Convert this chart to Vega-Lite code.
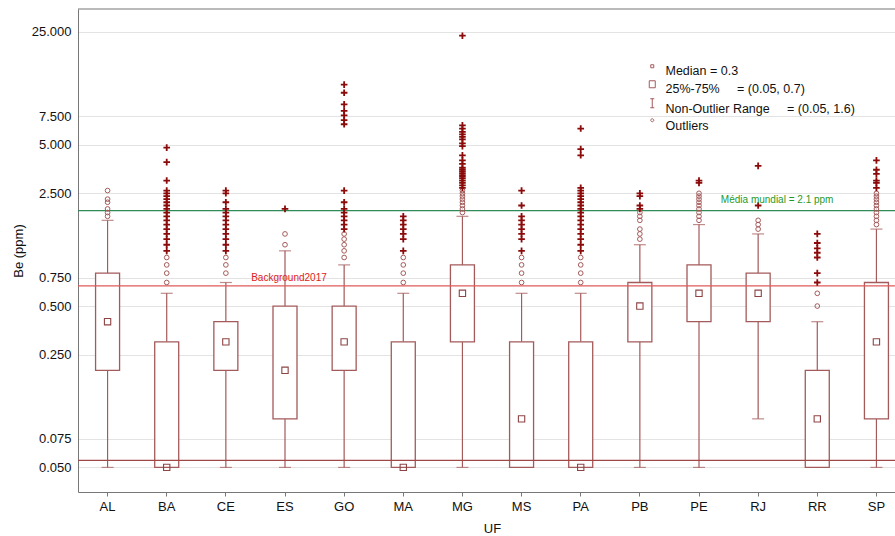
{
  "$schema": "https://vega.github.io/schema/vega-lite/v6.json",
  "width": 817,
  "height": 483,
  "autosize": {"type": "none"},
  "padding": {"left": 78, "top": 9, "right": 0, "bottom": 44},
  "background": "white",
  "config": {
    "view": {"stroke": null},
    "font": "Liberation Sans",
    "axis": {"labelFont": "Liberation Sans", "titleFont": "Liberation Sans", "labelColor": "#111", "titleColor": "#111", "titleFontWeight": "normal", "domainColor": "#777", "tickColor": "#777", "labelFontSize": 13, "titleFontSize": 13},
    "axisX": {"labelAngle": 0, "tickSize": 4, "labelPadding": 4, "titlePadding": 9, "grid": false},
    "axisY": {"ticks": false, "labelPadding": 7, "titlePadding": 6, "grid": true, "gridColor": "#e3e3e3"}
  },
  "datasets": {
    "boxes": [
      {"uf": "AL", "lo": 0.05, "q1": 0.2, "med": 0.4, "q3": 0.8, "hi": 1.7},
      {"uf": "BA", "lo": 0.05, "q1": 0.05, "med": 0.05, "q3": 0.3, "hi": 0.6},
      {"uf": "CE", "lo": 0.05, "q1": 0.2, "med": 0.3, "q3": 0.4, "hi": 0.7},
      {"uf": "ES", "lo": 0.05, "q1": 0.1, "med": 0.2, "q3": 0.5, "hi": 1.1},
      {"uf": "GO", "lo": 0.05, "q1": 0.2, "med": 0.3, "q3": 0.5, "hi": 0.9},
      {"uf": "MA", "lo": 0.05, "q1": 0.05, "med": 0.05, "q3": 0.3, "hi": 0.6},
      {"uf": "MG", "lo": 0.05, "q1": 0.3, "med": 0.6, "q3": 0.9, "hi": 1.8},
      {"uf": "MS", "lo": 0.05, "q1": 0.05, "med": 0.1, "q3": 0.3, "hi": 0.6},
      {"uf": "PA", "lo": 0.05, "q1": 0.05, "med": 0.05, "q3": 0.3, "hi": 0.6},
      {"uf": "PB", "lo": 0.05, "q1": 0.3, "med": 0.5, "q3": 0.7, "hi": 1.2},
      {"uf": "PE", "lo": 0.05, "q1": 0.4, "med": 0.6, "q3": 0.9, "hi": 1.6},
      {"uf": "RJ", "lo": 0.1, "q1": 0.4, "med": 0.6, "q3": 0.8, "hi": 1.4},
      {"uf": "RR", "lo": 0.05, "q1": 0.05, "med": 0.1, "q3": 0.2, "hi": 0.4},
      {"uf": "SP", "lo": 0.05, "q1": 0.1, "med": 0.3, "q3": 0.7, "hi": 1.5}
    ],
    "pts": [
      {"uf": "AL", "v": 1.8, "k": "o"}, {"uf": "AL", "v": 1.9, "k": "o"}, {"uf": "AL", "v": 2.0, "k": "o"}, {"uf": "AL", "v": 2.2, "k": "o"}, {"uf": "AL", "v": 2.3, "k": "o"}, {"uf": "AL", "v": 2.6, "k": "o"},
      {"uf": "BA", "v": 0.7, "k": "o"}, {"uf": "BA", "v": 0.8, "k": "o"}, {"uf": "BA", "v": 0.9, "k": "o"}, {"uf": "BA", "v": 1.0, "k": "o"},
      {"uf": "BA", "v": 1.1, "k": "e"}, {"uf": "BA", "v": 1.2, "k": "e"}, {"uf": "BA", "v": 1.3, "k": "e"}, {"uf": "BA", "v": 1.4, "k": "e"}, {"uf": "BA", "v": 1.5, "k": "e"}, {"uf": "BA", "v": 1.6, "k": "e"}, {"uf": "BA", "v": 1.7, "k": "e"}, {"uf": "BA", "v": 1.8, "k": "e"}, {"uf": "BA", "v": 1.9, "k": "e"}, {"uf": "BA", "v": 2.0, "k": "e"}, {"uf": "BA", "v": 2.1, "k": "e"}, {"uf": "BA", "v": 2.2, "k": "e"}, {"uf": "BA", "v": 2.3, "k": "e"}, {"uf": "BA", "v": 2.4, "k": "e"}, {"uf": "BA", "v": 2.5, "k": "e"}, {"uf": "BA", "v": 2.6, "k": "e"}, {"uf": "BA", "v": 3.0, "k": "e"}, {"uf": "BA", "v": 3.9, "k": "e"}, {"uf": "BA", "v": 4.8, "k": "e"},
      {"uf": "CE", "v": 0.8, "k": "o"}, {"uf": "CE", "v": 0.9, "k": "o"}, {"uf": "CE", "v": 1.0, "k": "o"},
      {"uf": "CE", "v": 1.1, "k": "e"}, {"uf": "CE", "v": 1.2, "k": "e"}, {"uf": "CE", "v": 1.3, "k": "e"}, {"uf": "CE", "v": 1.4, "k": "e"}, {"uf": "CE", "v": 1.5, "k": "e"}, {"uf": "CE", "v": 1.6, "k": "e"}, {"uf": "CE", "v": 1.7, "k": "e"}, {"uf": "CE", "v": 1.8, "k": "e"}, {"uf": "CE", "v": 1.9, "k": "e"}, {"uf": "CE", "v": 2.0, "k": "e"}, {"uf": "CE", "v": 2.2, "k": "e"}, {"uf": "CE", "v": 2.5, "k": "e"}, {"uf": "CE", "v": 2.6, "k": "e"},
      {"uf": "ES", "v": 1.2, "k": "o"}, {"uf": "ES", "v": 1.4, "k": "o"}, {"uf": "ES", "v": 2.0, "k": "e"},
      {"uf": "GO", "v": 1.0, "k": "o"}, {"uf": "GO", "v": 1.1, "k": "o"}, {"uf": "GO", "v": 1.2, "k": "o"}, {"uf": "GO", "v": 1.3, "k": "o"}, {"uf": "GO", "v": 1.4, "k": "o"},
      {"uf": "GO", "v": 1.5, "k": "e"}, {"uf": "GO", "v": 1.6, "k": "e"}, {"uf": "GO", "v": 1.7, "k": "e"}, {"uf": "GO", "v": 1.8, "k": "e"}, {"uf": "GO", "v": 1.9, "k": "e"}, {"uf": "GO", "v": 2.0, "k": "e"}, {"uf": "GO", "v": 2.2, "k": "e"}, {"uf": "GO", "v": 2.6, "k": "e"}, {"uf": "GO", "v": 6.7, "k": "e"}, {"uf": "GO", "v": 7.1, "k": "e"}, {"uf": "GO", "v": 7.6, "k": "e"}, {"uf": "GO", "v": 8.1, "k": "e"}, {"uf": "GO", "v": 8.9, "k": "e"}, {"uf": "GO", "v": 10.5, "k": "e"}, {"uf": "GO", "v": 11.8, "k": "e"},
      {"uf": "MA", "v": 0.7, "k": "o"}, {"uf": "MA", "v": 0.8, "k": "o"}, {"uf": "MA", "v": 0.9, "k": "o"}, {"uf": "MA", "v": 1.0, "k": "o"},
      {"uf": "MA", "v": 1.1, "k": "e"}, {"uf": "MA", "v": 1.3, "k": "e"}, {"uf": "MA", "v": 1.4, "k": "e"}, {"uf": "MA", "v": 1.5, "k": "e"}, {"uf": "MA", "v": 1.6, "k": "e"}, {"uf": "MA", "v": 1.7, "k": "e"}, {"uf": "MA", "v": 1.8, "k": "e"},
      {"uf": "MG", "v": 1.9, "k": "o"}, {"uf": "MG", "v": 2.0, "k": "o"}, {"uf": "MG", "v": 2.1, "k": "o"}, {"uf": "MG", "v": 2.2, "k": "o"}, {"uf": "MG", "v": 2.3, "k": "o"}, {"uf": "MG", "v": 2.4, "k": "o"}, {"uf": "MG", "v": 2.5, "k": "o"}, {"uf": "MG", "v": 2.6, "k": "o"},
      {"uf": "MG", "v": 2.7, "k": "e"}, {"uf": "MG", "v": 2.8, "k": "e"}, {"uf": "MG", "v": 2.9, "k": "e"}, {"uf": "MG", "v": 3.0, "k": "e"}, {"uf": "MG", "v": 3.1, "k": "e"}, {"uf": "MG", "v": 3.2, "k": "e"}, {"uf": "MG", "v": 3.3, "k": "e"}, {"uf": "MG", "v": 3.4, "k": "e"}, {"uf": "MG", "v": 3.5, "k": "e"}, {"uf": "MG", "v": 3.6, "k": "e"}, {"uf": "MG", "v": 3.8, "k": "e"}, {"uf": "MG", "v": 4.0, "k": "e"}, {"uf": "MG", "v": 4.3, "k": "e"}, {"uf": "MG", "v": 4.9, "k": "e"}, {"uf": "MG", "v": 5.1, "k": "e"}, {"uf": "MG", "v": 5.4, "k": "e"}, {"uf": "MG", "v": 5.6, "k": "e"}, {"uf": "MG", "v": 5.8, "k": "e"}, {"uf": "MG", "v": 6.0, "k": "e"}, {"uf": "MG", "v": 6.3, "k": "e"}, {"uf": "MG", "v": 6.6, "k": "e"}, {"uf": "MG", "v": 23.7, "k": "e"},
      {"uf": "MS", "v": 0.7, "k": "o"}, {"uf": "MS", "v": 0.8, "k": "o"}, {"uf": "MS", "v": 0.9, "k": "o"}, {"uf": "MS", "v": 1.0, "k": "o"},
      {"uf": "MS", "v": 1.1, "k": "e"}, {"uf": "MS", "v": 1.3, "k": "e"}, {"uf": "MS", "v": 1.4, "k": "e"}, {"uf": "MS", "v": 1.5, "k": "e"}, {"uf": "MS", "v": 1.6, "k": "e"}, {"uf": "MS", "v": 1.7, "k": "e"}, {"uf": "MS", "v": 1.8, "k": "e"}, {"uf": "MS", "v": 2.1, "k": "e"}, {"uf": "MS", "v": 2.6, "k": "e"},
      {"uf": "PA", "v": 0.7, "k": "o"}, {"uf": "PA", "v": 0.8, "k": "o"}, {"uf": "PA", "v": 0.9, "k": "o"}, {"uf": "PA", "v": 1.0, "k": "o"},
      {"uf": "PA", "v": 1.1, "k": "e"}, {"uf": "PA", "v": 1.2, "k": "e"}, {"uf": "PA", "v": 1.3, "k": "e"}, {"uf": "PA", "v": 1.4, "k": "e"}, {"uf": "PA", "v": 1.5, "k": "e"}, {"uf": "PA", "v": 1.6, "k": "e"}, {"uf": "PA", "v": 1.7, "k": "e"}, {"uf": "PA", "v": 1.8, "k": "e"}, {"uf": "PA", "v": 1.9, "k": "e"}, {"uf": "PA", "v": 2.0, "k": "e"}, {"uf": "PA", "v": 2.1, "k": "e"}, {"uf": "PA", "v": 2.2, "k": "e"}, {"uf": "PA", "v": 2.3, "k": "e"}, {"uf": "PA", "v": 2.4, "k": "e"}, {"uf": "PA", "v": 2.5, "k": "e"}, {"uf": "PA", "v": 2.6, "k": "e"}, {"uf": "PA", "v": 2.7, "k": "e"}, {"uf": "PA", "v": 4.3, "k": "e"}, {"uf": "PA", "v": 4.7, "k": "e"}, {"uf": "PA", "v": 6.3, "k": "e"},
      {"uf": "PB", "v": 1.3, "k": "o"}, {"uf": "PB", "v": 1.4, "k": "o"}, {"uf": "PB", "v": 1.5, "k": "o"}, {"uf": "PB", "v": 1.7, "k": "o"}, {"uf": "PB", "v": 1.8, "k": "o"}, {"uf": "PB", "v": 1.9, "k": "o"},
      {"uf": "PB", "v": 2.0, "k": "e"}, {"uf": "PB", "v": 2.1, "k": "e"}, {"uf": "PB", "v": 2.4, "k": "e"}, {"uf": "PB", "v": 2.5, "k": "e"},
      {"uf": "PE", "v": 1.7, "k": "o"}, {"uf": "PE", "v": 1.8, "k": "o"}, {"uf": "PE", "v": 1.9, "k": "o"}, {"uf": "PE", "v": 2.0, "k": "o"}, {"uf": "PE", "v": 2.1, "k": "o"}, {"uf": "PE", "v": 2.2, "k": "o"}, {"uf": "PE", "v": 2.3, "k": "o"}, {"uf": "PE", "v": 2.4, "k": "o"}, {"uf": "PE", "v": 2.5, "k": "o"},
      {"uf": "PE", "v": 2.9, "k": "e"}, {"uf": "PE", "v": 3.0, "k": "e"},
      {"uf": "RJ", "v": 1.5, "k": "o"}, {"uf": "RJ", "v": 1.6, "k": "o"}, {"uf": "RJ", "v": 1.7, "k": "o"},
      {"uf": "RJ", "v": 2.1, "k": "e"}, {"uf": "RJ", "v": 3.7, "k": "e"},
      {"uf": "RR", "v": 0.5, "k": "o"}, {"uf": "RR", "v": 0.6, "k": "o"},
      {"uf": "RR", "v": 0.7, "k": "e"}, {"uf": "RR", "v": 0.8, "k": "e"}, {"uf": "RR", "v": 1.0, "k": "e"}, {"uf": "RR", "v": 1.07, "k": "e"}, {"uf": "RR", "v": 1.14, "k": "e"}, {"uf": "RR", "v": 1.23, "k": "e"}, {"uf": "RR", "v": 1.4, "k": "e"},
      {"uf": "SP", "v": 1.6, "k": "o"}, {"uf": "SP", "v": 1.7, "k": "o"}, {"uf": "SP", "v": 1.8, "k": "o"}, {"uf": "SP", "v": 1.9, "k": "o"}, {"uf": "SP", "v": 2.0, "k": "o"}, {"uf": "SP", "v": 2.1, "k": "o"}, {"uf": "SP", "v": 2.2, "k": "o"}, {"uf": "SP", "v": 2.3, "k": "o"}, {"uf": "SP", "v": 2.4, "k": "o"}, {"uf": "SP", "v": 2.5, "k": "o"},
      {"uf": "SP", "v": 2.7, "k": "e"}, {"uf": "SP", "v": 2.9, "k": "e"}, {"uf": "SP", "v": 3.0, "k": "e"}, {"uf": "SP", "v": 3.3, "k": "e"}, {"uf": "SP", "v": 3.5, "k": "e"}, {"uf": "SP", "v": 4.0, "k": "e"}
    ],
    "lines": [
      {"name": "mundial", "v": 1.95},
      {"name": "bg", "v": 0.667},
      {"name": "low", "v": 0.0553},
      {"name": "frame", "v": 34.7}
    ],
    "notes": [
      {"uf": "ES", "v": 0.667, "t": "Background2017", "c": "red"},
      {"uf": "RJ", "v": 1.95, "t": "Média mundial = 2.1 ppm", "c": "green"}
    ],
    "legendItems": [
      {"item": "Median = 0.3"},
      {"item": "25%-75%    \u00a0\u00a0\u00a0\u00a0= (0.05, 0.7)"},
      {"item": "Non-Outlier Range\u00a0\u00a0\u00a0\u00a0\u00a0= (0.05, 1.6)"},
      {"item": "Outliers"}
    ]
  },
  "layer": [
    {
      "data": {"name": "boxes"},
      "mark": {"type": "rule", "color": "#a45a5a", "strokeWidth": 1.2},
      "encoding": {
        "x": {"field": "uf", "type": "nominal", "title": "UF",
          "scale": {"domain": ["AL","BA","CE","ES","GO","MA","MG","MS","PA","PB","PE","RJ","RR","SP"], "range": [0, 828], "paddingInner": 0, "paddingOuter": 0}},
        "y": {"field": "lo", "type": "quantitative", "title": "Be (ppm)",
          "scale": {"type": "log", "domain": [0.0352, 34.7], "nice": false, "zero": false},
          "axis": {"values": [0.05, 0.075, 0.25, 0.5, 0.75, 2.5, 5, 7.5, 25], "format": ".3f"}},
        "y2": {"field": "q1"}
      }
    },
    {
      "data": {"name": "boxes"},
      "mark": {"type": "rule", "color": "#a45a5a", "strokeWidth": 1.2},
      "encoding": {
        "x": {"field": "uf", "type": "nominal", "title": "UF"},
        "y": {"field": "q3", "type": "quantitative", "title": "Be (ppm)"},
        "y2": {"field": "hi"}
      }
    },
    {
      "data": {"name": "boxes"},
      "mark": {"type": "tick", "color": "#a45a5a", "size": 12, "thickness": 1.2, "orient": "horizontal"},
      "encoding": {
        "x": {"field": "uf", "type": "nominal", "title": "UF"},
        "y": {"field": "lo", "type": "quantitative", "title": "Be (ppm)"}
      }
    },
    {
      "data": {"name": "boxes"},
      "mark": {"type": "tick", "color": "#a45a5a", "size": 12, "thickness": 1.2, "orient": "horizontal"},
      "encoding": {
        "x": {"field": "uf", "type": "nominal", "title": "UF"},
        "y": {"field": "hi", "type": "quantitative", "title": "Be (ppm)"}
      }
    },
    {
      "data": {"name": "boxes"},
      "mark": {"type": "bar", "size": 24, "fill": "white", "stroke": "#a45a5a", "strokeWidth": 1.3},
      "encoding": {
        "x": {"field": "uf", "type": "nominal", "title": "UF"},
        "y": {"field": "q1", "type": "quantitative", "title": "Be (ppm)"},
        "y2": {"field": "q3"}
      }
    },
    {
      "data": {"name": "boxes"},
      "mark": {"type": "point", "shape": "square", "size": 40, "filled": false, "color": "#8e4444", "strokeWidth": 1.1, "opacity": 1},
      "encoding": {
        "x": {"field": "uf", "type": "nominal", "title": "UF"},
        "y": {"field": "med", "type": "quantitative", "title": "Be (ppm)"}
      }
    },
    {
      "data": {"name": "lines"},
      "mark": {"type": "rule", "strokeWidth": 1.2},
      "encoding": {
        "y": {"field": "v", "type": "quantitative", "title": "Be (ppm)"},
        "color": {"field": "name", "type": "nominal", "legend": null,
          "scale": {"domain": ["mundial", "bg", "low", "frame"], "range": ["#2e8b57", "#e05a5a", "#a04848", "#777777"]}}
      }
    },
    {
      "data": {"name": "pts"},
      "transform": [{"filter": "datum.k === 'o'"}],
      "mark": {"type": "point", "shape": "circle", "size": 22, "filled": false, "color": "#a45a5a", "strokeWidth": 1, "opacity": 1},
      "encoding": {
        "x": {"field": "uf", "type": "nominal", "title": "UF"},
        "y": {"field": "v", "type": "quantitative", "title": "Be (ppm)"}
      }
    },
    {
      "data": {"name": "pts"},
      "transform": [{"filter": "datum.k === 'e'"}],
      "mark": {"type": "point", "shape": "M-1,0H1M0,-1V1", "size": 44, "filled": false, "color": "#8b0a0a", "strokeWidth": 1.8, "opacity": 1},
      "encoding": {
        "x": {"field": "uf", "type": "nominal", "title": "UF"},
        "y": {"field": "v", "type": "quantitative", "title": "Be (ppm)"}
      }
    },
    {
      "data": {"name": "notes"},
      "transform": [{"filter": "datum.c === 'red'"}],
      "mark": {"type": "text", "color": "#e02020", "fontSize": 10, "font": "Liberation Sans", "align": "center", "baseline": "bottom", "dx": 4, "dy": -3},
      "encoding": {
        "x": {"field": "uf", "type": "nominal", "title": "UF"},
        "y": {"field": "v", "type": "quantitative", "title": "Be (ppm)"},
        "text": {"field": "t"}
      }
    },
    {
      "data": {"name": "notes"},
      "transform": [{"filter": "datum.c === 'green'"}],
      "mark": {"type": "text", "color": "#1f9a2a", "fontSize": 10, "font": "Liberation Sans", "align": "center", "baseline": "bottom", "dx": 19, "dy": -6},
      "encoding": {
        "x": {"field": "uf", "type": "nominal", "title": "UF"},
        "y": {"field": "v", "type": "quantitative", "title": "Be (ppm)"},
        "text": {"field": "t"}
      }
    },
    {
      "data": {"name": "legendItems"},
      "mark": {"type": "point", "filled": false, "color": "#a45a5a", "opacity": 0},
      "encoding": {
        "shape": {"field": "item", "type": "nominal",
          "scale": {
            "domain": ["Median = 0.3", "25%-75%    \u00a0\u00a0\u00a0\u00a0= (0.05, 0.7)", "Non-Outlier Range\u00a0\u00a0\u00a0\u00a0\u00a0= (0.05, 1.6)", "Outliers"],
            "range": [
              "M-0.3,-1.3H0.3V-0.7H-0.3Z",
              "M-0.6,-1.7H0.6V-0.3H-0.6Z",
              "M-0.4,-2.1H0.4M0,-2.1V-0.3M-0.4,-0.3H0.4",
              "M0.3,-1.2A0.3,0.3 0 1,1 -0.3,-1.2A0.3,0.3 0 1,1 0.3,-1.2"
            ]
          },
          "legend": {
            "orient": "none", "legendX": 568, "legendY": 56, "title": null,
            "padding": 0, "labelFont": "Liberation Sans", "labelFontSize": 12.5, "labelColor": "#111",
            "symbolSize": 100, "symbolStrokeColor": "#a45a5a", "symbolFillColor": "white", "symbolOpacity": 1, "symbolStrokeWidth": 1,
            "labelOffset": 7, "rowPadding": 0, "labelLimit": 400
          }
        }
      }
    }
  ]
}
